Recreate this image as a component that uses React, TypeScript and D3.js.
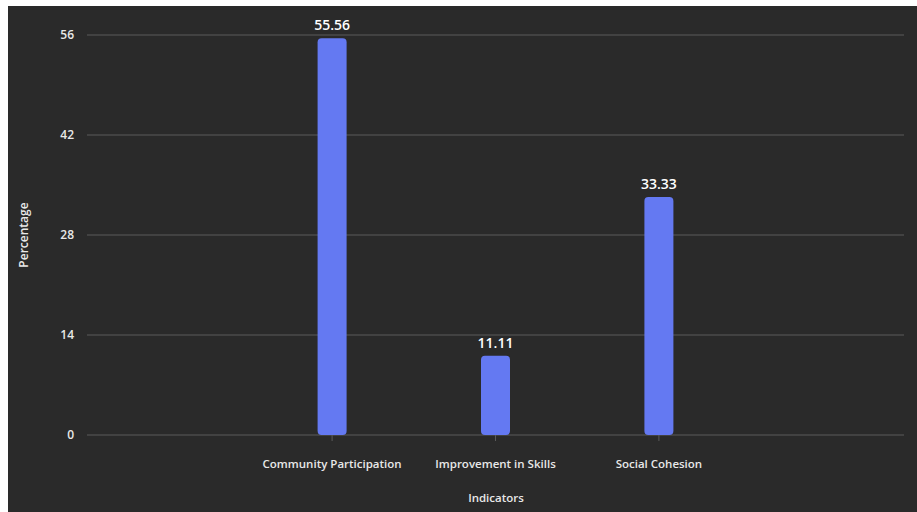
import React from "react";
import * as d3 from "d3";

const categories = ["Community Participation", "Improvement in Skills", "Social Cohesion"];
const values = [55.56, 11.11, 33.33];
const yTicks = [0, 14, 28, 42, 56];
const xTitle = "Indicators";
const yTitle = "Percentage";

export default function App() {
  const W = 909, H = 506;
  const left = 79, right = 896, top = 29, bottom = 429;
  const slots = ["__pad0", ...categories, "__pad1"];
  const x = d3.scaleBand<string>().domain(slots).range([left, right]);
  const y = d3.scaleLinear().domain([0, 56]).range([bottom, top]);
  const barW = 29;
  const font = "'Open Sans', sans-serif";
  return (
    <div style={{ position: "absolute", left: 8, top: 6 }}>
      <svg width={W} height={H} style={{ display: "block" }}>
        <rect x={0} y={0} width={W} height={H} fill="#2a2a2a" />
        {yTicks.map((t) => (
          <g key={t}>
            <line x1={left} x2={right} y1={y(t)} y2={y(t)} stroke="#4b4b4b" strokeWidth={1.5} />
            <text x={66} y={y(t)} dy="0.35em" textAnchor="end" fill="#e8e8e8" fontSize={12} fontWeight={600} fontFamily={font}>
              {t}
            </text>
          </g>
        ))}
        {categories.map((c) => {
          const cx = (x(c) as number) + x.bandwidth() / 2;
          return (
            <g key={c}>
              <line x1={cx} x2={cx} y1={bottom} y2={bottom + 6} stroke="#5a5a5a" strokeWidth={1} />
              <text x={cx} y={bottom + 33} textAnchor="middle" fill="#e8e8e8" fontSize={11.5} fontWeight={600} fontFamily={font}>
                {c}
              </text>
            </g>
          );
        })}
        {categories.map((c, i) => {
          const cx = (x(c) as number) + x.bandwidth() / 2;
          const v = values[i];
          return (
            <g key={c + "bar"}>
              <rect x={cx - barW / 2} y={y(v)} width={barW} height={bottom - y(v)} rx={4} ry={4} fill="#6479f2" />
              <text x={cx} y={y(v) - 8} textAnchor="middle" fill="#ffffff" fontSize={14} fontWeight={600} fontFamily={font}>
                {v.toFixed(2)}
              </text>
            </g>
          );
        })}
        <text x={488} y={496} textAnchor="middle" fill="#e8e8e8" fontSize={11.5} fontWeight={600} fontFamily={font}>
          {xTitle}
        </text>
        <text transform={`translate(20,${(top + bottom) / 2}) rotate(-90)`} textAnchor="middle" fill="#e8e8e8" fontSize={12} fontWeight={600} fontFamily={font}>
          {yTitle}
        </text>
      </svg>
    </div>
  );
}
